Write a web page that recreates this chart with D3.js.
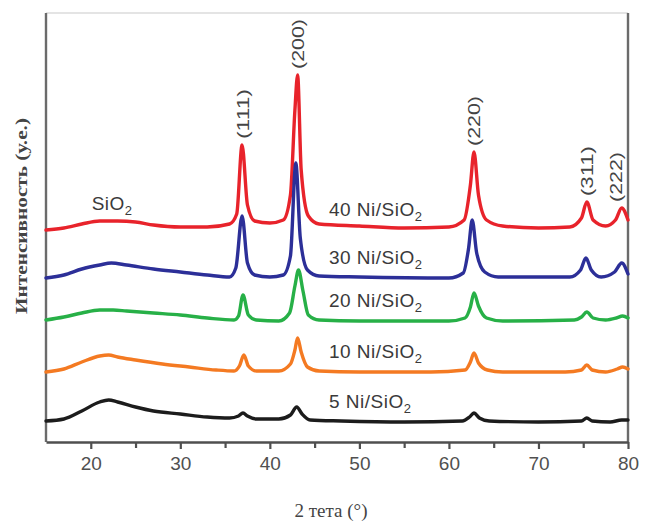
<!DOCTYPE html>
<html lang="ru">
<head>
<meta charset="UTF-8">
<title>XRD Ni/SiO2</title>
<script src="https://d3js.org/d3.v7.min.js"></script>
<style>
  body { margin: 0; background: #fff; }
  svg { display: block; }
  .tick-label { font-family: "Liberation Sans", Arial, sans-serif; font-size: 19px; fill: #505050; }
  .sample-label { font-family: "Liberation Sans", Arial, sans-serif; font-size: 19px; fill: #3a3a3a; letter-spacing: 0.5px; }
  .hkl { font-family: "Liberation Sans", Arial, sans-serif; font-size: 17px; fill: #444; }
  .axis-title { font-family: "Liberation Serif", "Times New Roman", serif; fill: #444; }
</style>
</head>
<body>
<div id="chart"></div>
<script>
// ---- data ----
// 2θ (deg) / intensity (a.u.) relative to each pattern's baseline
const ni5 = [[15,1],[17,3],[19,11],[21,20],[22,22],[23,20],[25,15],[27,11],[30,8],[33,5],[35.5,4],[36.5,6],[37,9],[37.5,6],[38.5,3],[41,3],[42.3,7],[43,15],[43.6,8],[44.5,2],[48,1],[55,0],[61.5,1],[62.3,5],[62.8,9],[63.4,4],[64.5,1],[70,0],[74.8,1],[75.4,4],[76,1],[78,0],[79.3,2],[80,2]];
const ni10 = [[15,0],[17,3],[19,10],[21,16],[22,17],[23,15],[25,12],[28,8],[31,5],[34,2],[36,1],[36.6,6],[37.1,17],[37.6,6],[38.5,1],[41,1],[42.3,8],[42.8,22],[43.1,34],[43.5,20],[44.2,5],[45.5,1],[50,0],[58,0],[61.8,2],[62.4,10],[62.8,19],[63.3,9],[64.3,2],[66,0],[73,0],[74.8,2],[75.4,7],[76,2],[77.5,0],[78.8,3],[79.4,5],[80,3]];
const ni20 = [[15,1],[17,4],[19,8],[21,11],[22.5,11],[24,10],[27,8],[30,6],[33,3],[36,1],[36.5,5],[37,26],[37.6,6],[38.5,1],[41,0],[42.2,8],[42.8,35],[43.2,51],[43.7,30],[44.3,6],[45.5,1],[50,0],[60,0],[61.8,3],[62.4,14],[62.8,28],[63.3,15],[64.2,3],[66,0],[74,1],[74.8,4],[75.4,9],[76.1,3],[77.5,1],[78.7,3],[79.4,5],[80,3]];
const ni30 = [[15,0],[17,3],[19,9],[21,13],[22.3,15],[24,13],[27,9],[30,6],[33,3],[35.5,1],[36.2,10],[36.9,62],[37.5,15],[38.3,3],[40,1],[41.5,3],[42.3,22],[42.9,115],[43.4,40],[44.2,8],[45.5,2],[50,1],[60,0],[61.6,5],[62.2,30],[62.6,58],[63.1,25],[64,6],[65.5,1],[73.5,1],[74.7,8],[75.3,20],[75.9,8],[77,1],[78.5,6],[79.3,15],[80,4]];
const ni40 = [[15,0],[17,2],[19,6],[21,9],[23,9],[25,8],[27,5],[30,3],[33,3],[35.5,6],[36.3,16],[36.9,85],[37.5,25],[38.3,9],[40,7],[41.5,10],[42.3,35],[42.8,120],[43.1,155],[43.5,60],[44.3,14],[45.5,6],[50,4],[55,2],[60,3],[61.7,10],[62.4,45],[62.8,78],[63.3,35],[64.2,10],[66,4],[70,2],[73.5,3],[74.8,12],[75.4,28],[76.1,10],[77.5,4],[78.6,10],[79.3,22],[80,10]];

const patterns = [ni40, ni30, ni20, ni10, ni5];
const sampleNames = ["40 Ni/SiO", "30 Ni/SiO", "20 Ni/SiO", "10 Ni/SiO", "5 Ni/SiO"];
const offsets = [212, 164, 121, 70, 20];           // vertical stacking offset (a.u.)
const colors = ["#e8232b", "#2c2f98", "#27b047", "#f47a22", "#1c1c1c"];

const hklLabels = ["(111)", "(200)", "(220)", "(311)", "(222)"];
const hklPeaks = [37, 43.1, 62.8, 75.4, 79.3];     // 2θ of the Ni reflections
const hklTextPos = [37, 43.1, 62.8, 75.4, 78.7];   // where the label sits
const xTicks = [20, 30, 40, 50, 60, 70, 80];
const xMinorTicks = [25, 35, 45, 55, 65, 75];

// ---- layout ----
const width = 646, height = 521;
const x = d3.scaleLinear().domain([15, 80]).range([46, 628]);
const y = d3.scaleLinear().domain([0, 430]).range([442, 12]);

const svg = d3.select("#chart").append("svg")
  .attr("width", width)
  .attr("height", height);

// faint top border and the two spines
svg.append("line")
  .attr("x1", x(15)).attr("x2", x(80))
  .attr("y1", 13).attr("y2", 13)
  .attr("stroke", "#e4e4e4").attr("stroke-width", 2);
svg.append("line")
  .attr("x1", x(15)).attr("x2", x(15))
  .attr("y1", 13).attr("y2", y(0))
  .attr("stroke", "#6b6b6b").attr("stroke-width", 2.4);
svg.append("line")
  .attr("x1", x(80)).attr("x2", x(80))
  .attr("y1", 13).attr("y2", y(0))
  .attr("stroke", "#6b6b6b").attr("stroke-width", 2.4);

// bottom axis: major + minor ticks
const xAxis = svg.append("g")
  .attr("class", "x-axis")
  .attr("transform", `translate(0,${y(0)})`)
  .style("color", "#4f4f4f")
  .call(d3.axisBottom(x).tickValues(xTicks).tickSize(7).tickSizeOuter(0).tickPadding(8));
xAxis.select(".domain").attr("stroke-width", 2.6);
xAxis.selectAll(".tick line").attr("stroke-width", 2.2);
xAxis.selectAll(".tick text").attr("class", "tick-label").attr("font-size", null).attr("font-family", null).attr("fill", null);

svg.append("g")
  .attr("transform", `translate(0,${y(0)})`)
  .style("color", "#4f4f4f")
  .call(d3.axisBottom(x).tickValues(xMinorTicks).tickSize(6).tickFormat(""))
  .call(g => g.select(".domain").remove())
  .call(g => g.selectAll(".tick line").attr("stroke-width", 2.2));

// axis titles
svg.append("text")
  .attr("class", "axis-title")
  .attr("x", 331).attr("y", 517)
  .attr("text-anchor", "middle")
  .attr("font-size", 19)
  .text("2 тета (°)");

svg.append("text")
  .attr("class", "axis-title")
  .attr("transform", "translate(27,216) rotate(-90)")
  .attr("text-anchor", "middle")
  .attr("font-size", 17)
  .attr("font-weight", "bold")
  .attr("textLength", 196)
  .attr("lengthAdjust", "spacingAndGlyphs")
  .text("Интенсивность (у.е.)");

// diffraction patterns, top pattern drawn first
patterns.forEach((pts, i) => {
  const line = d3.line()
    .x(d => x(d[0]))
    .y(d => y(d[1] + offsets[i]))
    .curve(d3.curveMonotoneX);
  svg.append("path")
    .datum(pts)
    .attr("d", line)
    .attr("fill", "none")
    .attr("stroke", colors[i])
    .attr("stroke-width", 3.4)
    .attr("stroke-linejoin", "round")
    .attr("stroke-linecap", "round");
});

// sample names
sampleNames.forEach((name, i) => {
  const t = svg.append("text")
    .attr("class", "sample-label")
    .attr("x", x(46.6))
    .attr("y", y(offsets[i]) - 14);
  t.append("tspan").text(name);
  t.append("tspan").attr("font-size", 13).attr("dy", 5).text("2");
});

// SiO2 hump label
const sio = svg.append("text")
  .attr("class", "sample-label")
  .attr("x", x(20.1))
  .attr("y", 210);
sio.append("tspan").text("SiO");
sio.append("tspan").attr("font-size", 13).attr("dy", 5).text("2");

// hkl labels above the 40 Ni/SiO2 peaks
const topPattern = patterns[0];
hklLabels.forEach((lab, i) => {
  const near = topPattern.filter(d => Math.abs(d[0] - hklPeaks[i]) < 0.5);
  const peak = d3.max(near, d => d[1]) + offsets[0];
  svg.append("text")
    .attr("class", "hkl")
    .attr("transform", `translate(${x(hklTextPos[i])},${y(peak) - 6}) rotate(-90)`)
    .attr("dy", "0.35em")
    .attr("textLength", 50)
    .attr("lengthAdjust", "spacingAndGlyphs")
    .text(lab);
});
</script>
</body>
</html>
